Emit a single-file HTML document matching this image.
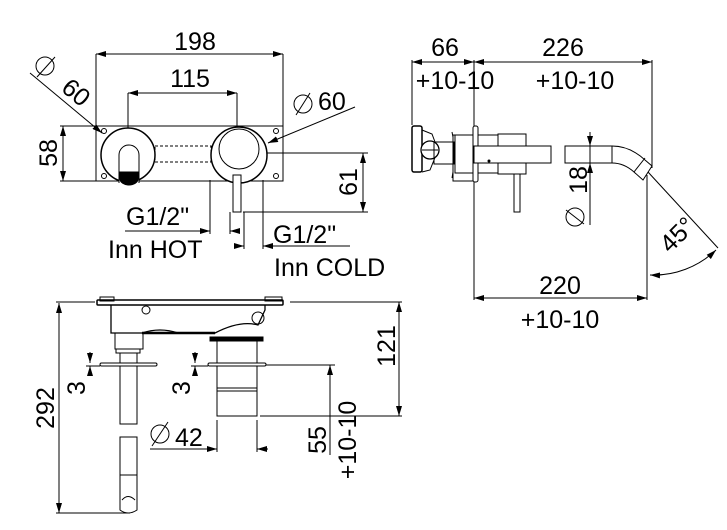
<!DOCTYPE html>
<html><head><meta charset="utf-8"><style>
html,body{margin:0;padding:0;background:#fff;}
svg{display:block;}
text{font-family:"Liberation Sans",sans-serif;fill:#000;}
</style></head><body>
<svg width="727" height="530" viewBox="0 0 727 530" xmlns="http://www.w3.org/2000/svg">
<defs>
<marker id="a" viewBox="0 0 10 6" refX="10" refY="3" markerWidth="10" markerHeight="6" orient="auto-start-reverse" markerUnits="userSpaceOnUse"><path d="M0,0 L10,3 L0,6 Z" fill="#000"/></marker>
</defs>
<g stroke="#000" stroke-width="1" fill="none">
<!-- FRONT VIEW -->
<line x1="96" y1="54" x2="96" y2="126"/><line x1="283" y1="54" x2="283" y2="126"/>
<line x1="96" y1="54" x2="283" y2="54" marker-start="url(#a)" marker-end="url(#a)"/>
<line x1="128" y1="93" x2="128" y2="128"/><line x1="237" y1="93" x2="237" y2="128"/>
<line x1="128" y1="93" x2="237" y2="93" marker-start="url(#a)" marker-end="url(#a)"/>
<rect x="96" y="126" width="187" height="55"/>
<line x1="60" y1="126" x2="96" y2="126"/><line x1="60" y1="181" x2="100" y2="181"/>
<line x1="63" y1="126" x2="63" y2="181" marker-start="url(#a)" marker-end="url(#a)"/>
<circle cx="104" cy="131" r="2.5"/><circle cx="104" cy="176" r="2.5"/><circle cx="276" cy="131" r="2.5"/><circle cx="276" cy="176" r="2.5"/>
<rect x="155" y="146" width="56" height="16" stroke-dasharray="3,2"/>
<circle cx="128" cy="155" r="27" fill="#fff" stroke-width="1.5"/>
<path d="M119,183 L119,155 A10,10 0 0 1 139,155 L139,183" fill="#fff"/>
<path d="M120,172 L138,172 L138,179 A9,6 0 0 1 120,179 Z" fill="#000"/>
<circle cx="239" cy="155" r="28" fill="#fff" stroke-width="1.5"/>
<circle cx="239" cy="149" r="20"/>
<rect x="233" y="175" width="8" height="37" fill="#fff"/>
<line x1="363" y1="153" x2="363" y2="212" marker-start="url(#a)" marker-end="url(#a)"/>
<line x1="267" y1="153" x2="368" y2="153"/><line x1="243" y1="212" x2="368" y2="212"/>
<line x1="210" y1="180" x2="210" y2="234"/><line x1="230" y1="212" x2="230" y2="234"/>
<line x1="125" y1="231" x2="210" y2="231" marker-end="url(#a)"/><line x1="230" y1="231" x2="240" y2="231" marker-start="url(#a)"/>
<line x1="244" y1="212" x2="244" y2="249"/><line x1="263" y1="180" x2="263" y2="249"/>
<line x1="234" y1="246" x2="244" y2="246" marker-end="url(#a)"/><line x1="263" y1="246" x2="350" y2="246" marker-start="url(#a)"/>
<line x1="30" y1="73" x2="102" y2="133" marker-end="url(#a)"/>
<circle cx="45" cy="66" r="9"/><line x1="37" y1="77" x2="55" y2="57"/>
<line x1="355" y1="107" x2="268" y2="143" marker-end="url(#a)"/>
<circle cx="303" cy="104" r="9"/><line x1="296" y1="115" x2="310" y2="93"/>
<!-- SIDE VIEW -->
<line x1="412" y1="62" x2="652" y2="62"/>
<line x1="412" y1="62" x2="474" y2="62" marker-start="url(#a)" marker-end="url(#a)"/>
<line x1="474" y1="62" x2="652" y2="62" marker-start="url(#a)" marker-end="url(#a)"/>
<line x1="412" y1="60" x2="412" y2="125"/><line x1="474" y1="60" x2="474" y2="300"/><line x1="652" y1="60" x2="652" y2="168"/>
<rect x="412" y="126" width="10" height="46" rx="2" stroke-width="1.5"/>
<path d="M422,130 L432,134 L438,150 L430,170 L422,172" />
<circle cx="430" cy="150" r="9" fill="#fff" stroke-width="1.3"/><line x1="422" y1="150" x2="438" y2="150"/>
<rect x="434" y="142" width="20" height="22"/>
<path d="M452,132 L453,137 L453,172 L452,178"/>
<rect x="453" y="135" width="20" height="46"/>
<rect x="455" y="135" width="43" height="38"/>
<rect x="473" y="126" width="5" height="56" rx="2" fill="#fff"/>
<rect x="498" y="134" width="28" height="40" fill="#fff"/>
<rect x="474" y="146" width="77" height="17" fill="#fff"/>
<circle cx="489" cy="161" r="1" fill="#000"/>
<rect x="514" y="174" width="6" height="38"/>
<path d="M565,146 L612,146 Q630,146 645,160 L652,166 L643,180 L634,172 Q624,163 612,163 L565,163 Z"/>
<line x1="612" y1="146" x2="612" y2="163"/><line x1="634" y1="172" x2="645" y2="158"/>
<line x1="590" y1="135" x2="590" y2="225"/>
<line x1="590" y1="132" x2="590" y2="146" marker-end="url(#a)"/><line x1="590" y1="175" x2="590" y2="163" marker-end="url(#a)"/>
<circle cx="575" cy="217" r="9"/><line x1="566" y1="210" x2="584" y2="224"/>
<line x1="647" y1="175" x2="647" y2="300"/>
<line x1="648" y1="172" x2="718" y2="248"/>
<path d="M650,275 A90,90 0 0 0 716,250" marker-start="url(#a)" marker-end="url(#a)"/>
<line x1="474" y1="298" x2="647" y2="298" marker-start="url(#a)" marker-end="url(#a)"/>
<!-- BOTTOM VIEW -->
<rect x="97" y="300" width="186" height="5" rx="1" stroke-width="1.5"/>
<rect x="100" y="297" width="14" height="4"/><rect x="265" y="297" width="17" height="4"/>
<path d="M111,305 L111,333 L142,333 Q160,327 178,333 L215,333 Q240,320 258,325 L265,310 L265,305" stroke-width="1.3"/>
<line x1="142" y1="333" x2="215" y2="333" stroke-width="2.5"/>
<circle cx="146" cy="310" r="4"/><circle cx="258" cy="318" r="6"/>
<rect x="115" y="333" width="28" height="16"/>
<rect x="116" y="349" width="24" height="4"/>
<rect x="210" y="337" width="53" height="4" fill="#000"/>
<rect x="120" y="353" width="17" height="71"/>
<rect x="100" y="363" width="57" height="3" rx="1.5" fill="#fff"/>
<path d="M120,437 L137,437 L137,510 Q128,516 120,510 Z"/>
<line x1="120" y1="475" x2="137" y2="475"/><path d="M122,500 Q128,493 135,500"/>
<rect x="217" y="341" width="40" height="75"/>
<line x1="217" y1="388" x2="257" y2="388"/><line x1="217" y1="391" x2="257" y2="391"/>
<rect x="208" y="363" width="58" height="3" rx="1.5" fill="#fff"/>
<line x1="59" y1="303" x2="59" y2="513" marker-start="url(#a)" marker-end="url(#a)"/>
<line x1="56" y1="302" x2="95" y2="302"/><line x1="56" y1="513" x2="130" y2="513"/>
<line x1="290" y1="302" x2="402" y2="302"/><line x1="260" y1="416" x2="402" y2="416"/>
<line x1="399" y1="302" x2="399" y2="416" marker-start="url(#a)" marker-end="url(#a)"/>
<line x1="90" y1="352" x2="90" y2="363" marker-end="url(#a)"/><line x1="90" y1="376" x2="90" y2="366" marker-end="url(#a)"/><line x1="86" y1="366" x2="100" y2="366"/>
<line x1="195" y1="352" x2="195" y2="363" marker-end="url(#a)"/><line x1="195" y1="376" x2="195" y2="366" marker-end="url(#a)"/><line x1="191" y1="366" x2="208" y2="366"/>
<line x1="266" y1="365" x2="335" y2="365"/>
<line x1="330" y1="365" x2="330" y2="455" marker-start="url(#a)"/>
<line x1="217" y1="420" x2="217" y2="452"/><line x1="257" y1="420" x2="257" y2="452"/>
<line x1="150" y1="449" x2="217" y2="449" marker-end="url(#a)"/><line x1="257" y1="449" x2="268" y2="449" marker-start="url(#a)"/>
<circle cx="160" cy="434" r="9"/><line x1="152" y1="446" x2="168" y2="422"/>
</g>
<g font-size="25">
<text x="195" y="50" text-anchor="middle">198</text>
<text x="190" y="87" text-anchor="middle">115</text>
<text transform="translate(57,153) rotate(-90)" text-anchor="middle">58</text>
<text transform="translate(357,182) rotate(-90)" text-anchor="middle">61</text>
<text transform="translate(60,90) rotate(40)">60</text>
<text x="318" y="110">60</text>
<text x="126" y="225">G1/2"</text>
<text x="108" y="258">Inn HOT</text>
<text x="273" y="243">G1/2"</text>
<text x="274" y="276">Inn COLD</text>
<text x="445" y="56" text-anchor="middle">66</text>
<text x="563" y="56" text-anchor="middle">226</text>
<text x="455" y="89" text-anchor="middle">+10-10</text>
<text x="575" y="89" text-anchor="middle">+10-10</text>
<text transform="translate(587,180) rotate(-90)" text-anchor="middle">18</text>
<text transform="translate(670,254) rotate(-45)">45°</text>
<text x="560" y="294" text-anchor="middle">220</text>
<text x="560" y="328" text-anchor="middle">+10-10</text>
<text transform="translate(54,408) rotate(-90)" text-anchor="middle">292</text>
<text transform="translate(395,346) rotate(-90)" text-anchor="middle">121</text>
<text transform="translate(85,388) rotate(-90)" text-anchor="middle">3</text>
<text transform="translate(190,388) rotate(-90)" text-anchor="middle">3</text>
<text x="175" y="446">42</text>
<text transform="translate(326,440) rotate(-90)" text-anchor="middle">55</text>
<text transform="translate(356,440) rotate(-90)" text-anchor="middle">+10-10</text>
</g>
</svg>
</body></html>
